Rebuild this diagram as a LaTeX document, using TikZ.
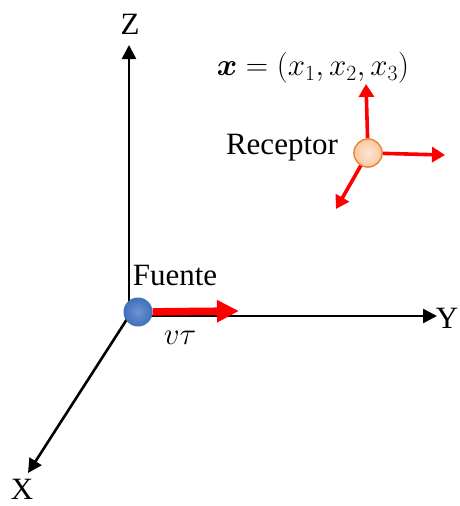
\RequirePackage{fix-cm}
\documentclass[tikz,border=0pt]{standalone}
\usepackage{amsmath, amssymb, bm}
\usepackage{fontspec}
\setmainfont{Liberation Serif}
\usepackage{tikz}
\usetikzlibrary{arrows.meta}
\definecolor{srcblue}{RGB}{62,112,190}
\definecolor{recfill}{RGB}{250,200,160}
\definecolor{recedge}{RGB}{237,125,49}
\tikzset{
    axis/.style={line width=2.6pt, -{Triangle[length=14pt,width=14pt]}},
    vec/.style={draw=red, line width=3.6pt, -{Triangle[length=13pt,width=15pt]}},
    bigvec/.style={draw=red, line width=7.5pt, -{Triangle[length=22pt,width=21pt]}},
    textlabel/.style={align=center, inner sep=0pt, font=\fontsize{31}{36}\selectfont},
    mathlabel/.style={inner sep=0pt, font=\fontsize{31}{36}\selectfont},
    srcball/.style={circle, inner sep=0pt, minimum size=29pt,
        inner color=srcblue!75!white, outer color=srcblue},
    recball/.style={circle, inner sep=0pt, minimum size=28pt, draw=recedge, line width=1.2pt,
        inner color=white!55!recfill, outer color=recfill}
}

\begin{document}
\begin{tikzpicture}[x=1pt, y=-1pt]
            \useasboundingbox (0,0) rectangle (459,506);

            % axes
            \coordinate (o) at (129,316);
            \coordinate (zend) at (129,45);
            \coordinate (yend) at (437,316);
            \coordinate (xend) at (28,473);
            \draw[axis] (o) -- (zend);
            \draw[axis] (o) -- (yend);
            \draw[axis] (o) -- (xend);
            \node[textlabel] (zlab) at (130,24) {Z};
            \node[textlabel] (ylab) at (447,318) {Y};
            \node[textlabel] (xlab) at (22,489) {X};

            % source
            \node[srcball] (fuente) at (138,312) {};
            \coordinate (vtend) at (239,311);
            \draw[bigvec] (fuente) -- (vtend);
            \node[textlabel] (fuentelab) at (175,275) {Fuente};
            \node[mathlabel] (vtlab) at (180,338) {$v\tau$};

            % receiver
            \coordinate (rup) at (366,84);
            \coordinate (rright) at (445,155);
            \coordinate (rdown) at (336,209);
            \node[recball] (rec) at (368,153) {};
            \draw[vec] (rec) -- (rup);
            \draw[vec] (rec) -- (rright);
            \draw[vec] (rec) -- (rdown);
            \node[recball] at (rec) {};
            \node[textlabel] (reclab) at (282,148) {Receptor};
            \node[mathlabel] (xlabel) at (313,68) {$\bm{x}=(x_1,x_2,x_3)$};
        \end{tikzpicture}
\end{document}
